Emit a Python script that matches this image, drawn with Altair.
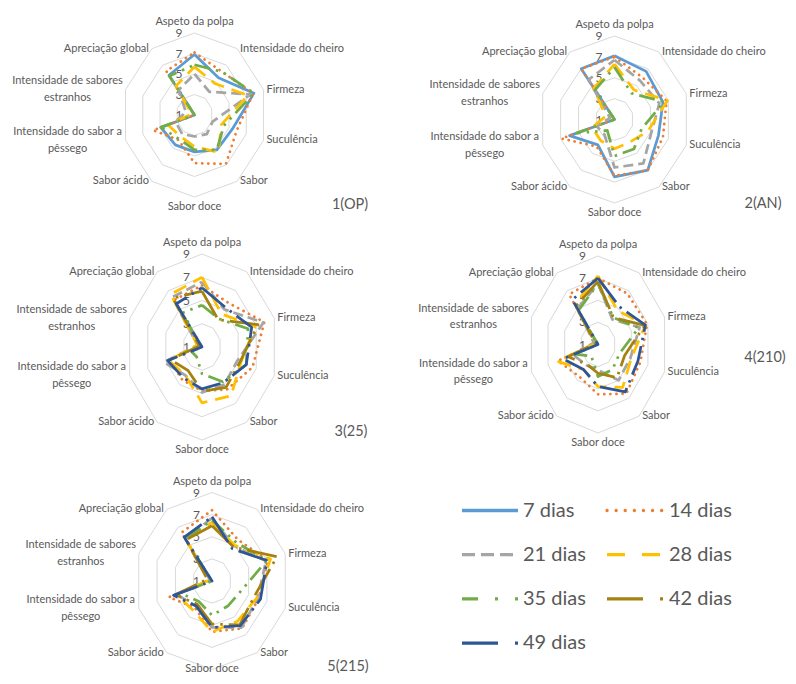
import altair as alt
import pandas as pd

# ---------------- data ----------------
CATEGORIES = ["Aspeto da polpa", "Intensidade do cheiro", "Firmeza", "Suculência",
              "Sabor", "Sabor doce", "Sabor ácido",
              "Intensidade do sabor a pêssego", "Intensidade de sabores estranhos",
              "Apreciação global"]
CATEGORY_LINES = [["Aspeto da polpa"], ["Intensidade do cheiro"], ["Firmeza"], ["Suculência"],
                  ["Sabor"], ["Sabor doce"], ["Sabor ácido"],
                  ["Intensidade do sabor a", "pêssego"], ["Intensidade de sabores", "estranhos"],
                  ["Apreciação global"]]
SERIES = ["7 dias", "14 dias", "21 dias", "28 dias", "35 dias", "42 dias", "49 dias"]
PANELS = ["1(OP)", "2(AN)", "3(25)", "4(210)", "5(215)"]
TICKS = [1, 3, 5, 7, 9]

OP = {
    "7 dias":  [6.9, 5.5, 7.9, 5.4, 5.2, 4.6, 4.6, 4.9, 1.0, 5.8],
    "14 dias": [7.1, 6.2, 7.8, 5.9, 6.9, 5.7, 4.0, 5.8, 1.0, 6.3],
    "21 dias": [5.0, 3.8, 7.5, 3.1, 3.3, 3.1, 3.3, 3.2, 2.0, 4.0],
    "28 dias": [5.7, 4.8, 7.2, 4.1, 5.5, 4.1, 3.6, 4.1, 1.3, 4.5],
    "35 dias": [5.9, 6.2, 7.9, 4.4, 5.2, 4.4, 3.9, 4.9, 1.0, 5.7],
}
AN = {
    "7 dias":  [7.1, 6.7, 6.4, 5.9, 7.0, 6.5, 4.0, 6.0, 1.0, 7.0],
    "14 dias": [7.0, 6.0, 6.8, 6.4, 7.0, 6.4, 4.2, 6.9, 1.0, 7.0],
    "21 dias": [6.7, 5.6, 6.0, 5.1, 6.2, 5.6, 2.8, 3.0, 1.5, 5.7],
    "28 dias": [6.3, 4.5, 6.9, 4.7, 3.7, 3.8, 3.5, 3.5, 2.0, 4.7],
    "35 dias": [6.0, 4.1, 6.5, 4.0, 4.5, 4.5, 2.3, 5.2, 1.0, 4.5],
}
P25 = {
    "14 dias": [6.3, 5.7, 7.9, 6.6, 5.5, 4.8, 4.5, 4.6, 1.3, 6.0],
    "21 dias": [6.6, 5.0, 7.8, 4.9, 5.0, 4.9, 4.0, 5.2, 1.5, 6.3],
    "28 dias": [7.0, 4.5, 6.9, 5.3, 6.2, 5.8, 4.0, 4.7, 1.5, 6.6],
    "35 dias": [4.6, 4.0, 6.1, 5.9, 4.7, 3.3, 2.0, 2.2, 1.0, 4.6],
    "42 dias": [5.8, 3.9, 7.2, 5.2, 5.3, 4.8, 3.5, 4.5, 1.3, 6.2],
    "49 dias": [6.1, 5.2, 6.5, 5.9, 4.8, 4.6, 4.3, 4.8, 1.0, 5.6],
}
P210 = {
    "14 dias": [7.0, 6.7, 6.9, 6.1, 6.5, 5.5, 4.6, 5.8, 1.3, 6.6],
    "21 dias": [6.5, 3.8, 6.0, 4.9, 5.0, 3.3, 3.3, 4.0, 1.5, 5.0],
    "28 dias": [7.2, 4.8, 6.7, 5.0, 5.8, 4.8, 3.8, 5.9, 1.3, 5.5],
    "35 dias": [6.5, 4.0, 5.9, 3.6, 3.8, 3.9, 2.3, 3.8, 1.0, 4.8],
    "42 dias": [6.7, 4.0, 6.6, 4.2, 4.7, 3.6, 3.2, 4.6, 1.3, 5.3],
    "49 dias": [7.0, 5.2, 6.7, 5.8, 6.3, 4.8, 3.8, 5.2, 1.0, 6.0],
}
P215 = {
    "14 dias": [7.4, 5.6, 7.1, 6.1, 6.3, 5.6, 4.0, 5.7, 1.0, 6.4],
    "21 dias": [6.7, 4.9, 6.9, 6.0, 6.2, 5.2, 3.8, 4.9, 1.2, 5.7],
    "28 dias": [6.3, 5.0, 7.4, 5.9, 5.5, 5.6, 4.3, 4.9, 1.3, 5.6],
    "35 dias": [6.5, 5.3, 7.0, 4.1, 3.8, 4.1, 3.3, 4.5, 1.0, 5.7],
    "42 dias": [6.0, 4.8, 8.1, 5.6, 5.9, 4.9, 3.6, 5.0, 1.5, 5.6],
    "49 dias": [6.8, 4.6, 7.0, 6.3, 6.0, 5.2, 3.8, 5.2, 1.0, 5.9],
}
PANEL_DATA = [OP, AN, P25, P210, P215]

# ---------------- layout (page pixels) ----------------
CX = [194.5, 614.5, 202, 598, 212]
CY = [115, 119.5, 347, 344.5, 581]
RX = [72.5, 75.5, 76, 70, 77]
RY = [82, 83.5, 93, 88.5, 88.5]
TITLE_X = [350, 763, 351, 765, 348]
TITLE_Y = [205, 204, 432, 358, 667]
LEG_X = [462, 607]
LEG_TX = [523, 669]
LEG_Y0, LEG_DY = 510.5, 44.2
LABEL_MAX_Y = 669

TEXT = "#595959"
FONT = "Lato"

STYLE = {
    "7 dias":  dict(color="#5B9BD5", dash=None, cap="butt", ldash=None, lcap="butt"),
    "14 dias": dict(color="#ED7D31", dash=[0.1, 6], cap="round", ldash=[0.1, 9], lcap="round"),
    "21 dias": dict(color="#A5A5A5", dash=[10, 5], cap="butt", ldash=[13, 6], lcap="butt"),
    "28 dias": dict(color="#FFC000", dash=[14, 8], cap="butt", ldash=[18, 17], lcap="butt"),
    "35 dias": dict(color="#70AD47", dash=[16, 6, 2.5, 6, 2.5, 6], cap="butt",
                    ldash=[16, 17, 3, 17, 3, 17], lcap="butt"),
    "42 dias": dict(color="#A5820F", dash=[30, 6, 2.5, 6], cap="butt",
                    ldash=[36, 17, 3, 17], lcap="butt"),
    "49 dias": dict(color="#2E5597", dash=[30, 6, 2.5, 6], cap="butt",
                    ldash=[36, 17, 3, 17], lcap="butt"),
}

# ---------------- tables ----------------
rows = []
for p, d in enumerate(PANEL_DATA):
    for s, vals in d.items():
        for i in range(11):
            rows.append(dict(p=p, series=s, i=i, v=vals[i % 10]))
series_df = pd.DataFrame(rows)

grid_df = pd.DataFrame([dict(p=p, lev=t, i=i) for p in range(len(PANELS))
                        for t in TICKS[1:] for i in range(11)])
tick_df = pd.DataFrame([dict(p=p, t=t, label=str(t)) for p in range(len(PANELS)) for t in TICKS])
lab_rows = []
for p in range(len(PANELS)):
    for i, lines in enumerate(CATEGORY_LINES):
        for li, line in enumerate(lines):
            lab_rows.append(dict(p=p, i=i, text=line, li=li, n=len(lines),
                                 maxlen=max(len(x) for x in lines)))
lab_df = pd.DataFrame(lab_rows)
title_df = pd.DataFrame(dict(p=list(range(len(PANELS))), title=PANELS))
legend_df = pd.DataFrame([dict(series=s, k=k, end=e) for k, s in enumerate(SERIES) for e in (0, 1)])
legtxt_df = pd.DataFrame(dict(series=SERIES, k=list(range(len(SERIES)))))

cx, cy, rx, ry = (str(CX), str(CY), str(RX), str(RY))

X = alt.X("px:Q", scale=alt.Scale(domain=[8, 788], nice=False, zero=False), axis=None)
Y = alt.Y("py:Q", scale=alt.Scale(domain=[8, 676], reverse=True, nice=False, zero=False), axis=None)


def polar(chart, value_field):
    return chart.transform_calculate(
        ang="datum.i * PI / 5",
        f=f"(datum.{value_field} - 1) / 8",
    ).transform_calculate(
        px=f"{cx}[datum.p] + {rx}[datum.p] * datum.f * sin(datum.ang)",
        py=f"{cy}[datum.p] - {ry}[datum.p] * datum.f * cos(datum.ang)",
    )


layers = []

# grid rings
layers.append(
    polar(alt.Chart(grid_df), "lev").mark_line(color="#D9D9D9", strokeWidth=1)
    .encode(x=X, y=Y, detail="key:N", order="i:Q")
    .transform_calculate(key="datum.p + '_' + datum.lev")
)

# tick labels
layers.append(
    alt.Chart(tick_df).transform_calculate(
        px=f"{cx}[datum.p] - 15.5",
        py=f"{cy}[datum.p] - {ry}[datum.p] * (datum.t - 1) / 8",
    ).mark_text(font=FONT, fontSize=12, color=TEXT, align="center", baseline="middle")
    .encode(x=X, y=Y, text="label:N")
)

# category labels
lab_base = alt.Chart(lab_df).transform_calculate(
    ang="datum.i * PI / 5",
).transform_calculate(
    s="sin(datum.ang)", c="cos(datum.ang)",
).transform_calculate(
    sg="datum.s > 0.1 ? 1 : (datum.s < -0.1 ? -1 : 0)",
    vx=f"{cx}[datum.p] + {rx}[datum.p] * datum.s",
    vy=f"{cy}[datum.p] - {ry}[datum.p] * datum.c",
).transform_calculate(
    al="datum.sg == 0 || datum.n > 1 ? 'center' : (datum.sg > 0 ? 'left' : 'right')",
    px=("datum.sg == 0 ? " + f"{cx}[datum.p]" +
        " : (datum.n > 1 ? datum.vx + datum.sg * (3 + datum.maxlen * 2.5) : datum.vx + datum.sg * 3)"),
    py0=("datum.i == 0 ? " + f"{cy}[datum.p] - {ry}[datum.p] - 11" +
         " : (datum.i == 5 ? " + f"{cy}[datum.p] + {ry}[datum.p] + 10" +
         " : datum.vy + (datum.li - (datum.n - 1) / 2) * 16.5)"),
).transform_calculate(
    py=f"min(datum.py0, {LABEL_MAX_Y})"
)
for al in ["left", "center", "right"]:
    layers.append(
        lab_base.transform_filter(f"datum.al == '{al}'")
        .mark_text(font=FONT, fontSize=11, color=TEXT, align=al, baseline="middle")
        .encode(x=X, y=Y, text="text:N")
    )

# panel titles
layers.append(
    alt.Chart(title_df).transform_calculate(
        px=f"{TITLE_X}[datum.p]", py=f"{TITLE_Y}[datum.p]"
    ).mark_text(font=FONT, fontSize=14.5, color=TEXT, align="center", baseline="middle")
    .encode(x=X, y=Y, text="title:N")
)

# series lines + legend
for k, s in enumerate(SERIES):
    st = STYLE[s]
    kw = dict(color=st["color"], strokeWidth=2.75, strokeCap=st["cap"], strokeJoin="round")
    if st["dash"]:
        kw["strokeDash"] = st["dash"]
    layers.append(
        polar(alt.Chart(series_df).transform_filter(alt.datum.series == s), "v")
        .mark_line(**kw)
        .encode(x=X, y=Y, detail="p:N", order="i:Q")
    )
    lkw = dict(color=st["color"], strokeWidth=3.3, strokeCap=st["lcap"])
    if st["ldash"]:
        lkw["strokeDash"] = st["ldash"]
    layers.append(
        alt.Chart(legend_df).transform_filter(alt.datum.series == s).transform_calculate(
            px=f"{LEG_X}[datum.k % 2] + datum.end * 56",
            py=f"{LEG_Y0} + floor(datum.k / 2) * {LEG_DY}",
        ).mark_line(**lkw).encode(x=X, y=Y, order="end:Q")
    )

layers.append(
    alt.Chart(legtxt_df).transform_calculate(
        px=f"{LEG_TX}[datum.k % 2]",
        py=f"{LEG_Y0} + floor(datum.k / 2) * {LEG_DY}",
    ).mark_text(font=FONT, fontSize=20, color=TEXT, align="left", baseline="middle")
    .encode(x=X, y=Y, text="series:N")
)

chart = alt.layer(*layers).properties(
    width=780, height=668, padding=0,
    autosize=alt.AutoSizeParams(type="none"),
    background="white",
).configure_view(stroke=None)

chart.save("out.html", embed_options={"renderer": "svg", "actions": False})
